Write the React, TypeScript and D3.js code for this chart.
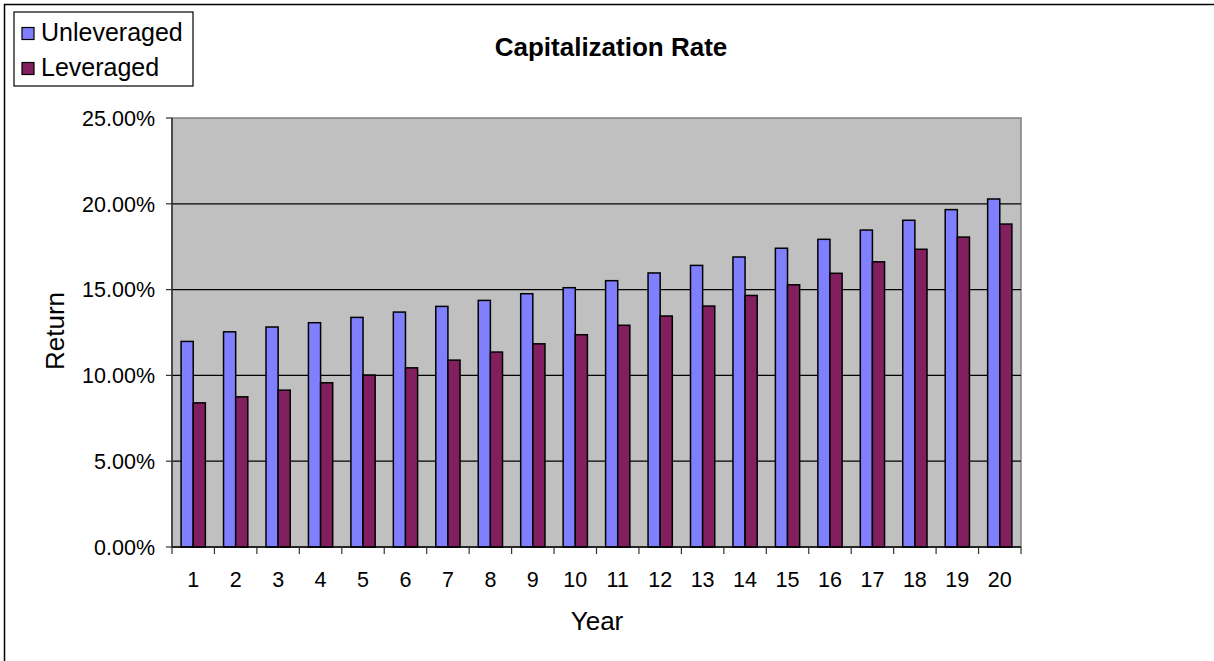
import React from "react";
import * as d3 from "d3";

const years = d3.range(1, 21).map(String);
const unleveraged = [
  0.1198, 0.1254, 0.1282, 0.1307, 0.1338, 0.1369, 0.1402, 0.1437, 0.1476, 0.1511,
  0.1552, 0.1597, 0.1641, 0.169, 0.1741, 0.1793, 0.1847, 0.1904, 0.1966, 0.2028,
];
const leveraged = [
  0.084, 0.0875, 0.0914, 0.0957, 0.1002, 0.1044, 0.1089, 0.1136, 0.1184, 0.1237,
  0.1292, 0.1346, 0.1404, 0.1466, 0.1528, 0.1595, 0.1662, 0.1735, 0.1806, 0.1882,
];
const yTicks = [0, 0.05, 0.1, 0.15, 0.2, 0.25];
const seriesNames = ["Unleveraged", "Leveraged"];
const seriesColors = ["#8080FF", "#821F5F"];

const W = 1214;
const H = 661;
const plot = { left: 172, right: 1021, top: 118, bottom: 547 };
const FONT = "Arial, 'Liberation Sans', sans-serif";

export default function App() {
  const x = d3.scaleBand<string>().domain(years).range([plot.left, plot.right]).padding(0);
  const y = d3.scaleLinear().domain([0, 0.25]).range([plot.bottom, plot.top]);
  const bw = x.bandwidth();
  const barW = bw / 3.5;
  const offset = (bw - 2 * barW) / 2;
  const fmt = d3.format(".2%");
  const series = [unleveraged, leveraged];

  return (
    <div style={{ position: "absolute", left: 0, top: 0 }}>
      <svg width={W} height={H} style={{ display: "block", background: "#fff" }} fontFamily={FONT}>
        {/* chart frame */}
        <rect x={4.5} y={4.5} width={W + 50} height={H + 50} fill="#fff" stroke="#000" strokeWidth={1.5} />

        {/* plot area */}
        <rect x={plot.left} y={plot.top} width={plot.right - plot.left} height={plot.bottom - plot.top} fill="#C0C0C0" stroke="#808080" strokeWidth={1.5} />

        {/* gridlines */}
        {yTicks.slice(1, -1).map((t) => (
          <line key={t} x1={plot.left} x2={plot.right} y1={y(t)} y2={y(t)} stroke="#000" strokeWidth={1.2} />
        ))}

        {/* bars */}
        {series.map((vals, si) =>
          vals.map((v, i) => {
            const bx = (x(years[i]) as number) + offset + si * barW;
            return (
              <rect
                key={`${si}-${i}`}
                x={bx}
                y={y(v)}
                width={barW}
                height={plot.bottom - y(v)}
                fill={seriesColors[si]}
                stroke="#000"
                strokeWidth={1.5}
              />
            );
          })
        )}

        {/* y axis */}
        <line x1={plot.left} x2={plot.left} y1={plot.top} y2={plot.bottom} stroke="#333" strokeWidth={1.5} />
        {yTicks.map((t) => (
          <g key={t}>
            <line x1={plot.left - 6} x2={plot.left} y1={y(t)} y2={y(t)} stroke="#333" strokeWidth={1.2} />
            <text x={155} y={y(t)} dy="0.36em" textAnchor="end" fontSize={21.5} fill="#000">
              {fmt(t)}
            </text>
          </g>
        ))}

        {/* x axis */}
        <line x1={plot.left} x2={plot.right} y1={plot.bottom} y2={plot.bottom} stroke="#000" strokeWidth={1.5} />
        {years.map((yr) => (
          <line key={"t" + yr} x1={x(yr)} x2={x(yr)} y1={plot.bottom} y2={plot.bottom + 7} stroke="#333" strokeWidth={1.2} />
        ))}
        <line x1={plot.right} x2={plot.right} y1={plot.bottom} y2={plot.bottom + 7} stroke="#333" strokeWidth={1.2} />
        {years.map((yr) => (
          <text key={"l" + yr} x={(x(yr) as number) + bw / 2} y={587} textAnchor="middle" fontSize={21.5} fill="#000">
            {yr}
          </text>
        ))}

        {/* axis titles */}
        <text x={597} y={630} textAnchor="middle" fontSize={26} fill="#000">
          Year
        </text>
        <text transform="translate(64,331) rotate(-90)" textAnchor="middle" fontSize={26} fill="#000">
          Return
        </text>

        {/* title */}
        <text x={611} y={56} textAnchor="middle" fontSize={26} fontWeight="bold" fill="#000">
          Capitalization Rate
        </text>

        {/* legend */}
        <rect x={14} y={12} width={179} height={74} fill="#fff" stroke="#000" strokeWidth={1.2} />
        {seriesNames.map((name, i) => (
          <g key={name} transform={`translate(0, ${i * 35})`}>
            <rect x={22} y={27.5} width={12} height={12} fill={seriesColors[i]} stroke="#000" strokeWidth={1.2} />
            <text x={41} y={41} fontSize={25} fill="#000">
              {name}
            </text>
          </g>
        ))}
      </svg>
    </div>
  );
}
